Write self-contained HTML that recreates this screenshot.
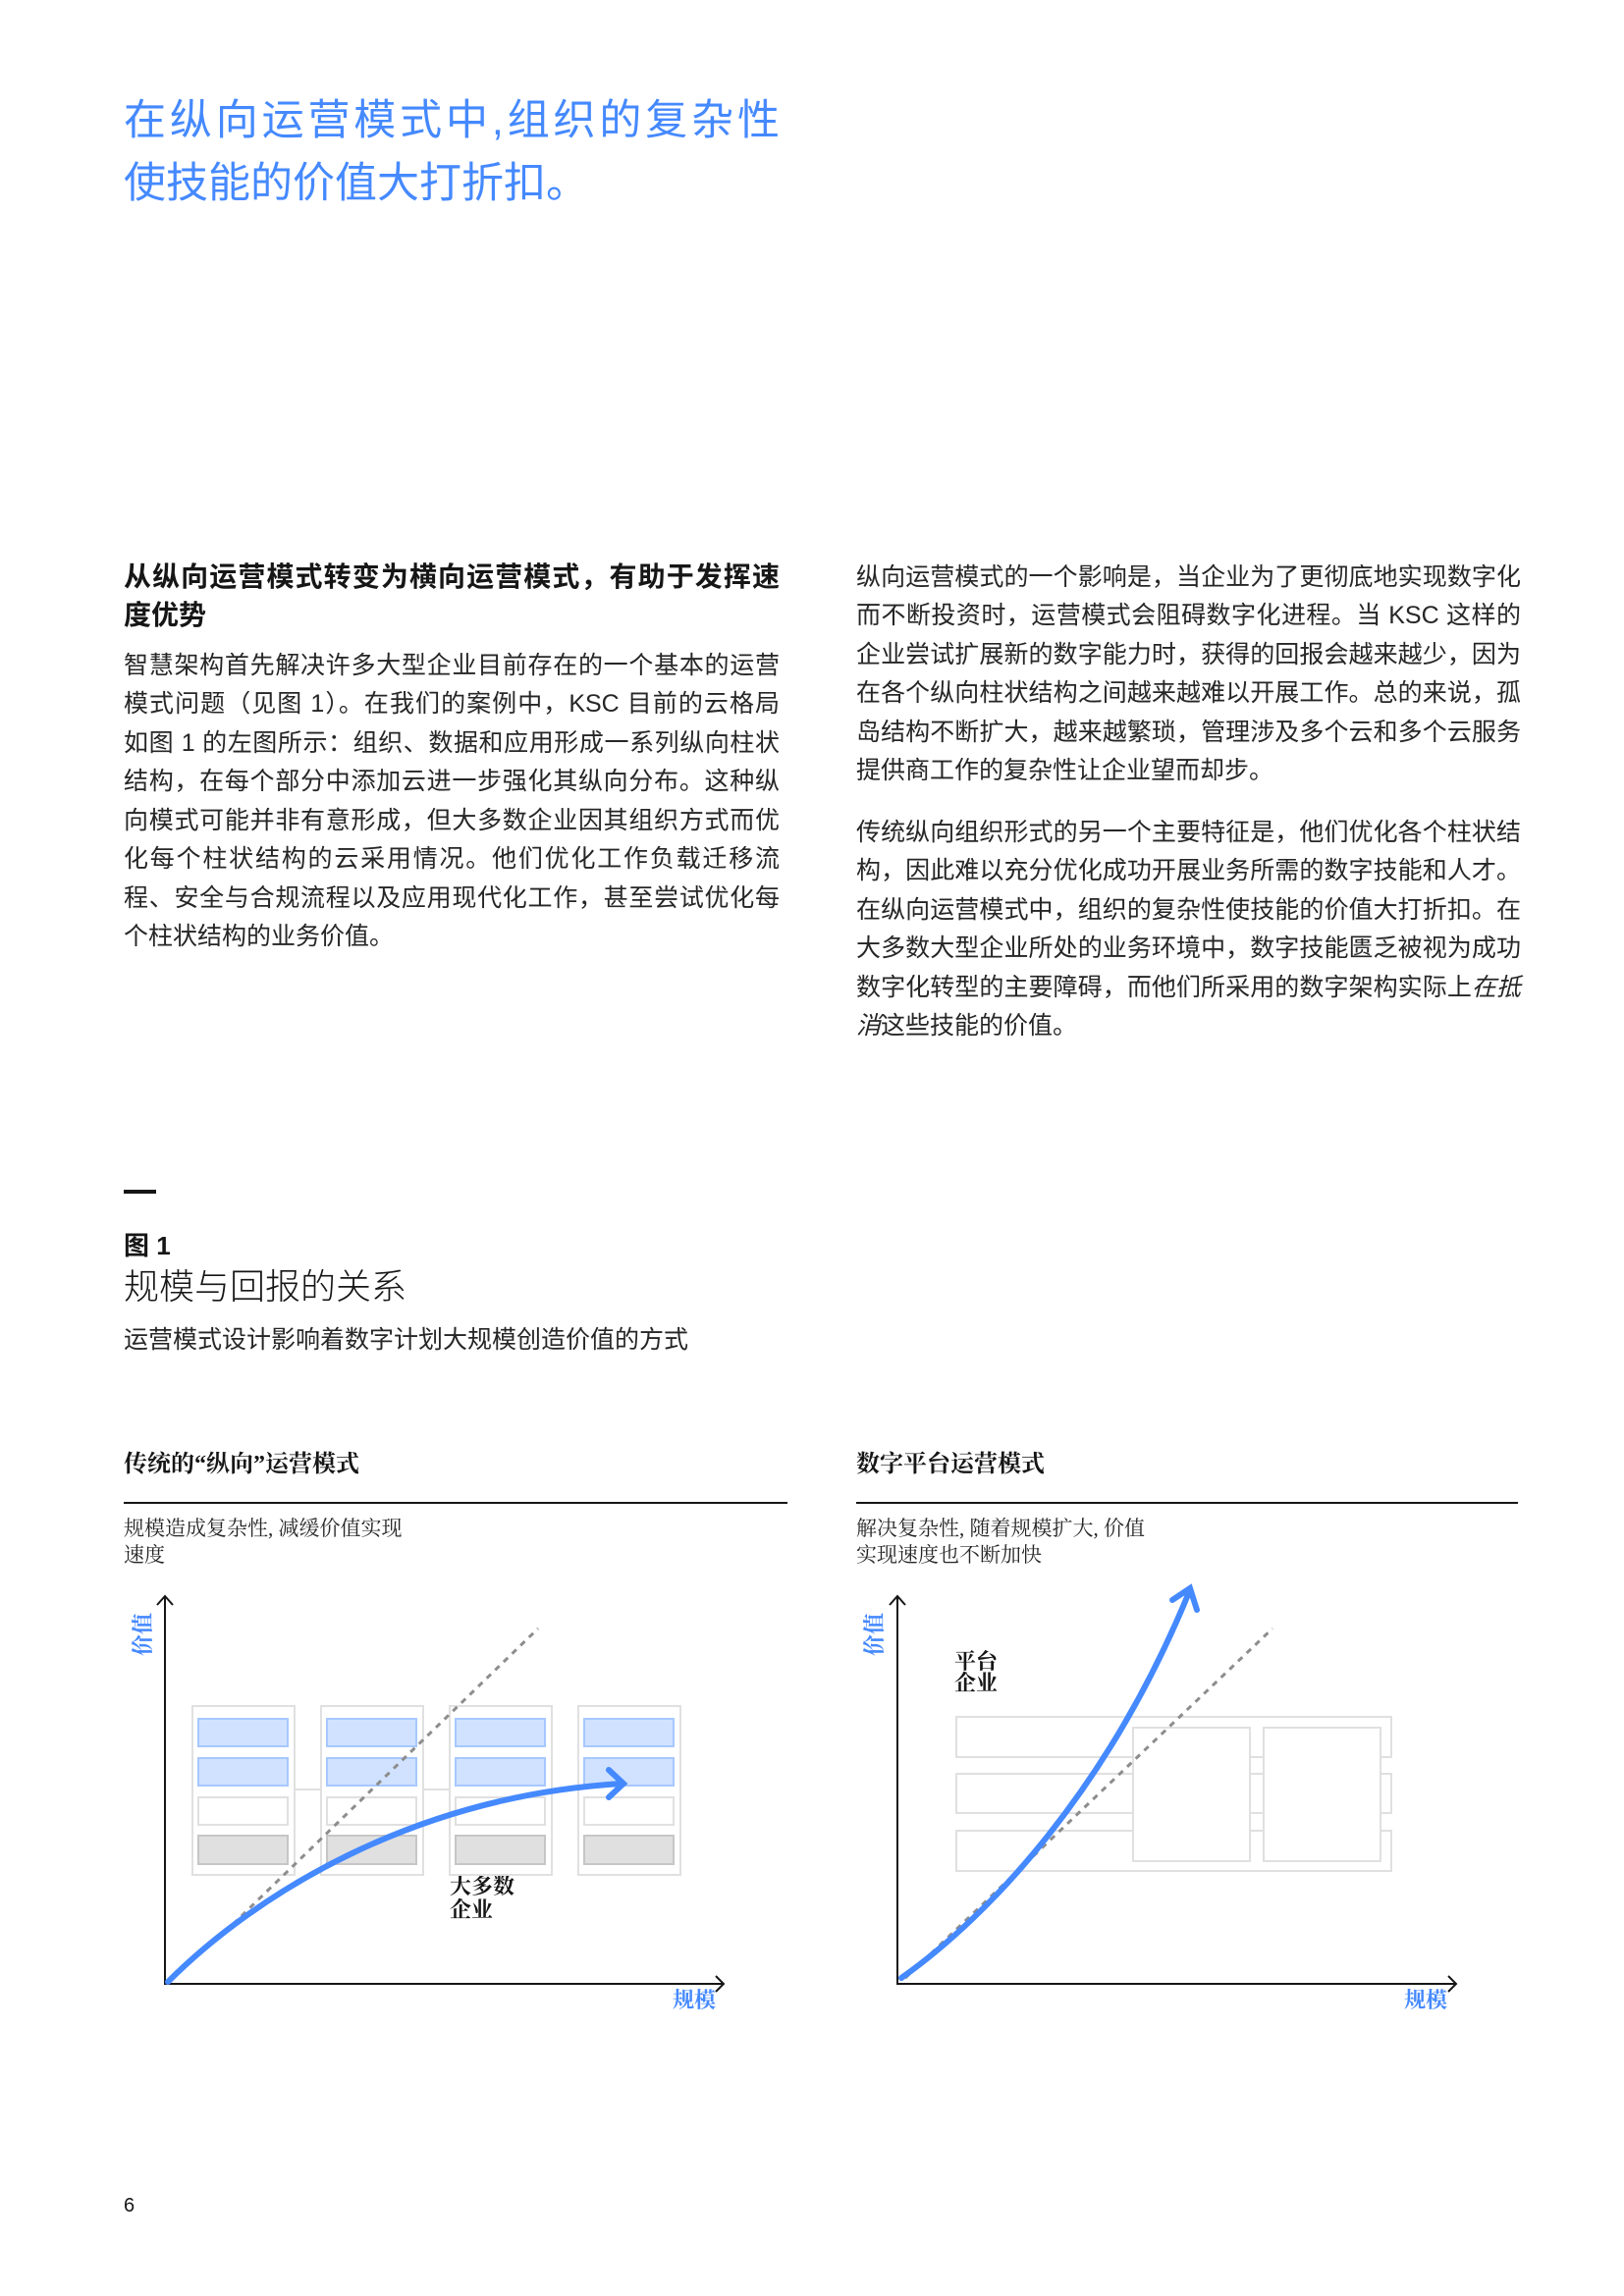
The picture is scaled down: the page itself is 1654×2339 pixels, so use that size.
<!DOCTYPE html>
<html><head><meta charset="utf-8"><style>
html,body{margin:0;padding:0;background:#fff;}
body{width:1654px;height:2339px;position:relative;overflow:hidden;font-family:"Liberation Sans","Noto Sans CJK SC",sans-serif;color:#161616;}
.a{position:absolute;white-space:nowrap;}
.t{position:absolute;color:#4589ff;font-size:43px;line-height:64px;font-weight:400;}
.j{position:absolute;font-size:25px;line-height:40px;text-align:justify;text-align-last:justify;white-space:nowrap;color:#262626;}
.l{position:absolute;font-size:25px;line-height:40px;white-space:nowrap;color:#262626;}
.h{position:absolute;font-size:28px;line-height:40px;font-weight:bold;text-align-last:justify;text-align:justify;white-space:nowrap;}
.s{font-family:"Liberation Serif","Noto Serif CJK SC",serif;}
</style></head><body>
<div class="t" style="left:126px;top:91px;width:668px;text-align-last:justify;text-align:justify;">在纵向运营模式中,组织的复杂性</div>
<div class="t" style="left:126px;top:155px;">使技能的价值大打折扣。</div>

<div class="h" style="left:126px;top:568px;width:668px;">从纵向运营模式转变为横向运营模式，有助于发挥速</div>
<div class="h" style="left:126px;top:607px;text-align-last:left;">度优势</div>

<div class="j" style="left:126px;top:658px;width:668px;">智慧架构首先解决许多大型企业目前存在的一个基本的运营</div>
<div class="j" style="left:126px;top:697px;width:668px;">模式问题（见图 1）。在我们的案例中，KSC 目前的云格局</div>
<div class="j" style="left:126px;top:737px;width:668px;">如图 1 的左图所示：组织、数据和应用形成一系列纵向柱状</div>
<div class="j" style="left:126px;top:776px;width:668px;">结构，在每个部分中添加云进一步强化其纵向分布。这种纵</div>
<div class="j" style="left:126px;top:816px;width:668px;">向模式可能并非有意形成，但大多数企业因其组织方式而优</div>
<div class="j" style="left:126px;top:855px;width:668px;">化每个柱状结构的云采用情况。他们优化工作负载迁移流</div>
<div class="j" style="left:126px;top:895px;width:668px;">程、安全与合规流程以及应用现代化工作，甚至尝试优化每</div>
<div class="l" style="left:126px;top:934px;">个柱状结构的业务价值。</div>

<div class="j" style="left:872px;top:568px;width:677px;">纵向运营模式的一个影响是，当企业为了更彻底地实现数字化</div>
<div class="j" style="left:872px;top:607px;width:677px;">而不断投资时，运营模式会阻碍数字化进程。当 KSC 这样的</div>
<div class="j" style="left:872px;top:647px;width:677px;">企业尝试扩展新的数字能力时，获得的回报会越来越少，因为</div>
<div class="j" style="left:872px;top:686px;width:677px;">在各个纵向柱状结构之间越来越难以开展工作。总的来说，孤</div>
<div class="j" style="left:872px;top:726px;width:677px;">岛结构不断扩大，越来越繁琐，管理涉及多个云和多个云服务</div>
<div class="l" style="left:872px;top:765px;">提供商工作的复杂性让企业望而却步。</div>

<div class="j" style="left:872px;top:828px;width:677px;">传统纵向组织形式的另一个主要特征是，他们优化各个柱状结</div>
<div class="j" style="left:872px;top:867px;width:677px;">构，因此难以充分优化成功开展业务所需的数字技能和人才。</div>
<div class="j" style="left:872px;top:907px;width:677px;">在纵向运营模式中，组织的复杂性使技能的价值大打折扣。在</div>
<div class="j" style="left:872px;top:946px;width:677px;">大多数大型企业所处的业务环境中，数字技能匮乏被视为成功</div>
<div class="j" style="left:872px;top:986px;width:677px;">数字化转型的主要障碍，而他们所采用的数字架构实际上<i>在抵</i></div>
<div class="l" style="left:872px;top:1025px;"><i>消</i>这些技能的价值。</div>

<div class="a" style="left:126px;top:1212px;width:33px;height:4px;background:#161616;"></div>
<div class="a" style="left:126px;top:1253px;font-size:26px;line-height:32px;font-weight:bold;">图 1</div>
<div class="a" style="left:126px;top:1290px;font-size:36px;line-height:42px;font-weight:300;">规模与回报的关系</div>
<div class="a" style="left:126px;top:1349px;font-size:25px;line-height:32px;color:#262626;">运营模式设计影响着数字计划大规模创造价值的方式</div>

<div class="a s" style="left:126px;top:1476px;font-size:24px;line-height:32px;font-weight:bold;">传统的“纵向”运营模式</div>
<div class="a s" style="left:872px;top:1476px;font-size:24px;line-height:32px;font-weight:bold;">数字平台运营模式</div>
<div class="a s" style="left:126px;top:1544px;font-size:21px;line-height:27px;color:#262626;">规模造成复杂性, 减缓价值实现<br>速度</div>
<div class="a s" style="left:872px;top:1544px;font-size:21px;line-height:27px;color:#262626;">解决复杂性, 随着规模扩大, 价值<br>实现速度也不断加快</div>

<div class="a s" style="left:458px;top:1910px;font-size:22px;line-height:24px;font-weight:bold;">大多数<br>企业</div>
<div class="a s" style="left:972px;top:1682px;font-size:22px;line-height:22px;font-weight:bold;">平台<br>企业</div>

<div class="a s" style="left:124px;top:1652px;font-size:22px;line-height:26px;font-weight:bold;color:#4589ff;transform:rotate(-90deg);transform-origin:center;">价值</div>
<div class="a s" style="left:869px;top:1652px;font-size:22px;line-height:26px;font-weight:bold;color:#4589ff;transform:rotate(-90deg);transform-origin:center;">价值</div>
<div class="a s" style="left:685px;top:2025px;font-size:22px;line-height:26px;font-weight:bold;color:#4589ff;">规模</div>
<div class="a s" style="left:1430px;top:2025px;font-size:22px;line-height:26px;font-weight:bold;color:#4589ff;">规模</div>

<svg class="a" style="left:0;top:0;" width="1654" height="2339" viewBox="0 0 1654 2339">
<line x1="126" y1="1531" x2="802" y2="1531" stroke="#161616" stroke-width="2"/>
<line x1="872" y1="1531" x2="1546" y2="1531" stroke="#161616" stroke-width="2"/>
<g stroke="#e0e0e0" stroke-width="2" fill="#fff">
<line x1="301" y1="1823" x2="326" y2="1823"/><line x1="431" y1="1823" x2="458" y2="1823"/>
<rect x="196" y="1738" width="104" height="172"/>
<rect x="327" y="1738" width="104" height="172"/>
<rect x="458" y="1738" width="104" height="172"/>
<rect x="589" y="1738" width="104" height="172"/>
</g>
<g>
<g id="c1">
<rect x="202" y="1751" width="91" height="28" fill="#d0e2ff" stroke="#a6c8ff" stroke-width="2"/>
<rect x="202" y="1791" width="91" height="28" fill="#d0e2ff" stroke="#a6c8ff" stroke-width="2"/>
<rect x="202" y="1831" width="91" height="28" fill="#fff" stroke="#e0e0e0" stroke-width="2"/>
<rect x="202" y="1870" width="91" height="29" fill="#e0e0e0" stroke="#c6c6c6" stroke-width="2"/>
</g>
<use href="#c1" x="131"/><use href="#c1" x="262"/><use href="#c1" x="393"/>
</g>
<g stroke="#e0e0e0" stroke-width="2" fill="#fff">
<rect x="974" y="1749" width="443" height="41"/>
<rect x="974" y="1807" width="443" height="40"/>
<rect x="974" y="1865" width="443" height="41"/>
<rect x="1154" y="1760" width="119" height="136"/>
<rect x="1287" y="1760" width="119" height="136"/>
</g>
<g stroke="#161616" stroke-width="2" fill="none">
<polyline points="168,1626 168,2021 737,2021"/>
<polyline points="160,1635 168,1626 176,1635"/>
<polyline points="729,2013 737,2021 729,2029"/>
<polyline points="914,1626 914,2021 1483,2021"/>
<polyline points="906,1635 914,1626 922,1635"/>
<polyline points="1475,2013 1483,2021 1475,2029"/>
</g>
<g stroke="#8d8d8d" stroke-width="3" stroke-dasharray="6,6" fill="none">
<line x1="220" y1="1977" x2="548" y2="1659"/>
<line x1="922" y1="2015" x2="1296" y2="1659"/>
</g>
<g stroke="#4589ff" stroke-width="6" fill="none" stroke-linecap="round">
<path d="M171,2019 C260,1930 420,1830 633,1817"/>
<polyline points="620,1803 635,1817 620,1831"/>
<path d="M918,2015 C1010,1950 1130,1820 1211,1622"/>
<polyline points="1194,1630 1212,1618 1219,1640"/>
</g>
</svg>
<div class="a" style="left:126px;top:2234px;font-size:20px;line-height:26px;">6</div>
</body></html>
